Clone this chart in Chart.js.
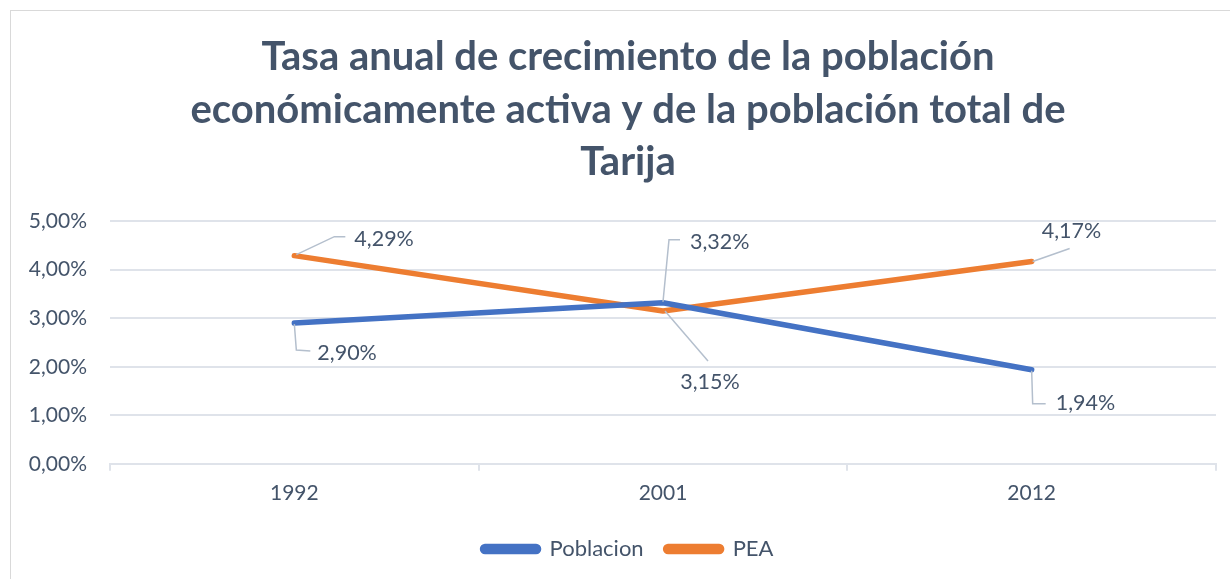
<!DOCTYPE html>
<html>
<head>
<meta charset="utf-8">
<script src="https://cdn.jsdelivr.net/npm/chart.js@4.4.0/dist/chart.umd.min.js"></script>
<style>
  body { margin: 0; background: #fff; }
  #frame { position: absolute; left: 10px; top: 10px; width: 1240px; height: 600px; border: 1px solid #d9d9d9; }
  #wrap { position: absolute; left: 0; top: 0; width: 1230px; height: 579px; }
</style>
</head>
<body>
<div id="frame"></div>
<div id="wrap"><canvas id="chart"></canvas></div>
<script>
// chart data
const years = ['1992', '2001', '2012'];
const poblacion = [2.90, 3.32, 1.94];
const pea = [4.29, 3.15, 4.17];
const yTicks = [0, 1, 2, 3, 4, 5];
const titleLines = [
    'Tasa anual de crecimiento de la población',
    'económicamente activa y de la población total de',
    'Tarija'
];

const textColor = '#44546a';
const gridColor = '#dfe3ea';
const fontFamily = 'Lato, "Open Sans", sans-serif';

function pct(v) {
    return v.toFixed(2).replace('.', ',') + '%';
}

// where each data label sits relative to its point, and its leader line
const labelStyle = [
    [ // Poblacion
        { dx: 23, dy: 30, align: 'left', leader: [[0, 1], [2, 27], [16, 28]] },
        { dx: 27, dy: -61, align: 'left', leader: [[0, -1], [6, -63], [17, -63]] },
        { dx: 24, dy: 33, align: 'left', leader: [[0, 1], [1, 34], [14, 34]] }
    ],
    [ // PEA
        { dx: 60, dy: -17, align: 'left', leader: [[2, -1], [40, -19], [51, -19]] },
        { dx: 47, dy: 71, align: 'center', leader: [[2, 0], [45, 50]] },
        { dx: 10, dy: -30, align: 'left', leader: [[1, 0], [38, -13]] }
    ]
];

const dataLabels = {
    id: 'dataLabels',
    afterLayout(chart) {
        // title and legend sit centred on the whole frame, a bit right of the plot
        [chart.titleBlock, chart.legend].forEach(b => {
            b.left += 15;
            b.right += 15;
        });
    },
    afterDatasetsDraw(chart) {
        const ctx = chart.ctx;
        ctx.save();
        chart.data.datasets.forEach((ds, di) => {
            const meta = chart.getDatasetMeta(di);
            meta.data.forEach((pt, i) => {
                const st = labelStyle[di][i];
                ctx.strokeStyle = '#b4bfcd';
                ctx.lineWidth = 1.5;
                ctx.beginPath();
                st.leader.forEach((p, k) => {
                    if (k === 0) ctx.moveTo(pt.x + p[0], pt.y + p[1]);
                    else ctx.lineTo(pt.x + p[0], pt.y + p[1]);
                });
                ctx.stroke();
                ctx.fillStyle = textColor;
                ctx.font = '21.5px ' + fontFamily;
                ctx.textAlign = st.align;
                ctx.textBaseline = 'middle';
                ctx.fillText(pct(ds.data[i]), pt.x + st.dx, pt.y + st.dy);
            });
        });
        ctx.restore();
    }
};

new Chart(document.getElementById('chart'), {
    type: 'line',
    data: {
        labels: years,
        datasets: [
            {
                label: 'Poblacion',
                data: poblacion,
                borderColor: '#4472c4',
                backgroundColor: '#4472c4',
                borderWidth: 5.5,
                borderCapStyle: 'round',
                borderJoinStyle: 'round',
                pointRadius: 0,
                tension: 0
            },
            {
                label: 'PEA',
                data: pea,
                borderColor: '#ed7d31',
                backgroundColor: '#ed7d31',
                borderWidth: 5.5,
                borderCapStyle: 'round',
                borderJoinStyle: 'round',
                pointRadius: 0,
                tension: 0
            }
        ]
    },
    options: {
        responsive: true,
        maintainAspectRatio: false,
        animation: false,
        layout: { padding: { left: 10, right: 14, top: 10, bottom: 9 } },
        plugins: {
            tooltip: { enabled: false },
            title: {
                display: true,
                text: titleLines,
                color: textColor,
                font: { family: fontFamily, size: 40, weight: 'bold', lineHeight: 1.31 },
                padding: { top: 21, bottom: 33 }
            },
            legend: {
                position: 'bottom',
                labels: {
                    color: textColor,
                    font: { family: fontFamily, size: 22 },
                    boxWidth: 56,
                    boxHeight: 5,
                    useBorderRadius: true,
                    borderRadius: 2.5,
                    padding: 22
                }
            }
        },
        scales: {
            x: {
                offset: true,
                grid: {
                    offset: true,
                    drawOnChartArea: false,
                    color: gridColor,
                    tickLength: 7,
                    lineWidth: 2
                },
                border: { color: gridColor, width: 2 },
                ticks: { color: textColor, font: { family: fontFamily, size: 21 }, padding: 10 }
            },
            y: {
                min: 0,
                max: 5,
                afterBuildTicks(scale) {
                    scale.ticks = yTicks.map(v => ({ value: v }));
                },
                afterFit(scale) {
                    scale.width = 100;
                },
                grid: { color: gridColor, lineWidth: 2, drawTicks: false },
                border: { display: false },
                ticks: {
                    color: textColor,
                    font: { family: fontFamily, size: 21 },
                    padding: 23,
                    callback: v => pct(v)
                }
            }
        }
    },
    plugins: [dataLabels]
});
</script>
</body>
</html>
